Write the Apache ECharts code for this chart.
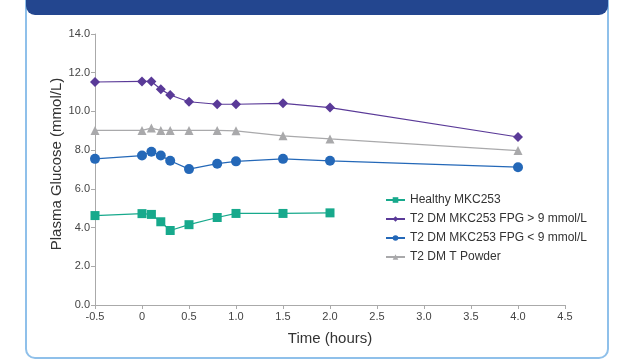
<!DOCTYPE html>
<html style="height: 100%">
<head>
<meta charset="utf-8">
<script src="https://cdn.jsdelivr.net/npm/echarts@6/dist/echarts.min.js"></script>
</head>
<body style="height: 100%; margin: 0; background: #fff">
<div id="container" style="width: 624px; height: 360px"></div>
<script type="text/javascript">
// time points (hours) and plasma glucose (mmol/L)
var times = [-0.5, 0, 0.1, 0.2, 0.3, 0.5, 0.8, 1.0, 1.5, 2.0, 4.0];
var healthy = [4.62, 4.72, 4.68, 4.30, 3.85, 4.15, 4.52, 4.73, 4.73, 4.76, null];
var fpgHigh = [11.52, 11.55, 11.55, 11.15, 10.85, 10.5, 10.37, 10.37, 10.42, 10.2, 8.68];
var fpgLow = [7.55, 7.72, 7.92, 7.72, 7.45, 7.02, 7.3, 7.42, 7.55, 7.45, 7.12];
var tPowder = [9.02, 9.02, 9.14, 9.02, 9.02, 9.02, 9.02, 9.0, 8.74, 8.58, 7.98];
var names = ['Healthy MKC253', 'T2 DM MKC253 FPG > 9 mmol/L', 'T2 DM MKC253 FPG < 9 mmol/L', 'T2 DM T Powder'];
var colors = ['#17a98c', '#5a3a98', '#2468b8', '#a9a9ab'];

function pairs(vals) {
    return times.map(function (t, i) { return [t, vals[i]]; }).filter(function (p) { return p[1] != null; });
}

var myChart = echarts.init(document.getElementById('container'));
var font = 'Liberation Sans, Arial, sans-serif';

var option = {
    animation: false,
    color: colors,
    textStyle: { fontFamily: font },
    graphic: [
        {
            type: 'rect', z: -1,
            shape: { x: 26, y: -12, width: 582, height: 370, r: 9 },
            style: { fill: '#fff', stroke: '#8fc0ea', lineWidth: 2 }
        },
        {
            type: 'rect', z: 0,
            shape: { x: 26, y: -12, width: 582, height: 27, r: [0, 0, 9, 9] },
            style: { fill: '#23468f' }
        },
        {
            // y axis title
            type: 'text', x: 57, y: 164, rotation: Math.PI / 2,
            style: {
                text: 'Plasma Glucose (mmol/L)', fontSize: 15, fill: '#333',
                fontFamily: font, align: 'center', verticalAlign: 'middle'
            }
        }
    ],
    grid: { left: 95, right: 59, top: 34, bottom: 55, containLabel: false },
    legend: {
        orient: 'vertical',
        left: 380, top: 189,
        itemGap: 7,
        itemWidth: 19, itemHeight: 7,
        textStyle: { fontSize: 12, color: '#333', fontFamily: font },
        data: names
    },
    xAxis: {
        type: 'value', min: -0.5, max: 4.5, interval: 0.5,
        name: 'Time (hours)', nameLocation: 'middle', nameGap: 26,
        nameTextStyle: { fontSize: 15, color: '#333' },
        axisLine: { onZero: false, lineStyle: { color: '#aaa' } },
        axisTick: { lineStyle: { color: '#aaa' }, length: 4 },
        axisLabel: {
            fontSize: 11, color: '#444', margin: 6,
            formatter: function (v) { return v === 0 ? '0' : v.toFixed(1); }
        },
        splitLine: { show: false }
    },
    yAxis: {
        type: 'value', min: 0, max: 14, interval: 2,
        axisLine: { show: true, onZero: false, lineStyle: { color: '#aaa' } },
        axisTick: { show: true, lineStyle: { color: '#aaa' }, length: 4 },
        axisLabel: {
            fontSize: 11, color: '#444', margin: 5,
            formatter: function (v) { return v.toFixed(1); }
        },
        splitLine: { show: false }
    },
    series: [
        { name: names[0], type: 'line', data: pairs(healthy), symbol: 'rect', symbolSize: 9, lineStyle: { width: 1.2 } },
        { name: names[1], type: 'line', data: pairs(fpgHigh), symbol: 'diamond', symbolSize: 10, lineStyle: { width: 1.2 } },
        { name: names[2], type: 'line', data: pairs(fpgLow), symbol: 'circle', symbolSize: 10, lineStyle: { width: 1.2 } },
        { name: names[3], type: 'line', data: pairs(tPowder), symbol: 'triangle', symbolSize: 9, lineStyle: { width: 1.2 } }
    ]
};
myChart.setOption(option);
</script>
</body>
</html>
